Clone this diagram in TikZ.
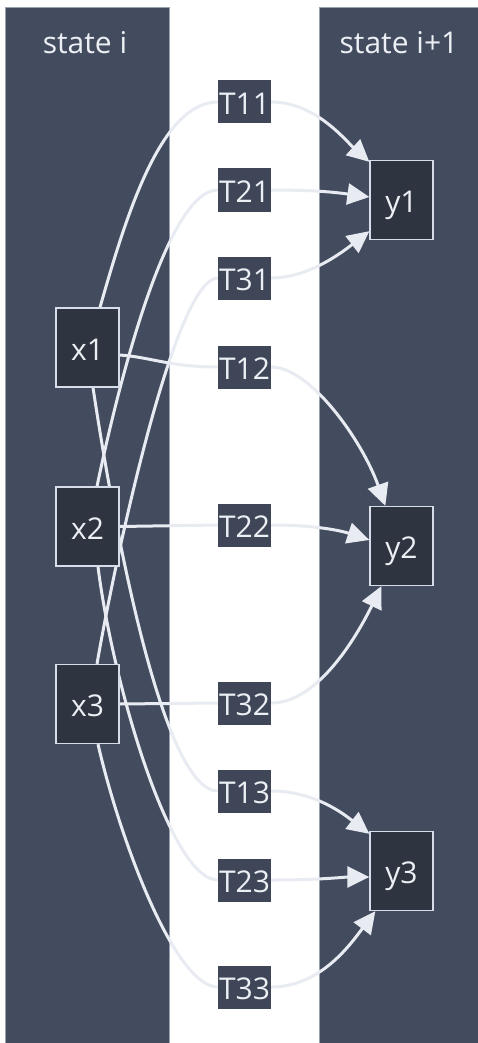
\documentclass[tikz,border=0pt]{standalone}
\usepackage{fontspec}
\setmainfont{Open Sans}
\usetikzlibrary{arrows.meta,calc}

\definecolor{clusterfill}{HTML}{434C5E}
\definecolor{clusterline}{HTML}{9AA2B1}
\definecolor{nodefill}{HTML}{2E3440}
\definecolor{nodeline}{HTML}{D8DEE9}
\definecolor{tfill}{HTML}{3E4658}
\definecolor{linkcol}{HTML}{E8EBF1}
\definecolor{labeltext}{HTML}{ECEFF4}

\pgfdeclarelayer{clusters}
\pgfdeclarelayer{links}
\pgfsetlayers{clusters,links,main}

\begin{document}
\begin{tikzpicture}[x=1pt,y=-1pt,
  cluster/.style={draw=clusterline, line width=0.8pt, fill=clusterfill, inner sep=0pt, anchor=north west},
  heading/.style={text=labeltext, font=\fontsize{30}{32}\selectfont, inner sep=0pt, anchor=base},
  statebox/.style={draw=nodeline, line width=1.3pt, fill=nodefill, minimum width=63pt, minimum height=79pt,
    inner sep=0pt, text=labeltext, font=\fontsize{30}{32}\selectfont, text height=25pt, text depth=0pt},
  tbox/.style={fill=tfill, minimum width=53pt, minimum height=43pt, inner sep=0pt, text=labeltext,
    font=\fontsize{30}{32}\selectfont, text height=25pt, text depth=0pt},
  link/.style={draw=linkcol, line width=3pt},
  arrowlink/.style={link, -{Triangle[length=22pt,width=21pt]}}]

\useasboundingbox (0,0) rectangle (478,1043);

% the two state columns
\begin{pgfonlayer}{clusters}
  \node[cluster, minimum width=164pt, minimum height=1040pt] (si) at (5,7) {};
  \node[cluster, minimum width=164pt, minimum height=1040pt] (sj) at (319,7) {};
\end{pgfonlayer}
\node[heading] (hi) at (85,54) {state i};
\node[heading] (hj) at (399,54) {state i+1};

% state nodes
\node[statebox] (x1) at (87.5,347.5) {x1};
\node[statebox] (x2) at (87.5,526.5) {x2};
\node[statebox] (x3) at (87.5,704) {x3};
\node[statebox] (y1) at (401.5,200) {y1};
\node[statebox] (y2) at (401.5,546) {y2};
\node[statebox] (y3) at (401.5,871) {y3};

% transition labels
\node[tbox] (t11) at (244.5,102) {T11};
\node[tbox] (t21) at (244.5,190) {T21};
\node[tbox] (t31) at (244.5,278) {T31};
\node[tbox] (t12) at (244.5,367) {T12};
\node[tbox] (t22) at (244.5,525) {T22};
\node[tbox] (t32) at (244.5,703) {T32};
\node[tbox] (t13) at (244.5,791) {T13};
\node[tbox] (t23) at (244.5,880) {T23};
\node[tbox] (t33) at (244.5,987) {T33};

\begin{pgfonlayer}{links}
  % x_i -> T_ij
  \draw[link] ($(x1.north)+(12.5,0)$) .. controls (125,220) and (160,102) .. (t11.west);
  \draw[link] ($(x2.north)+(9.5,0)$) .. controls (115,400) and (165,190) .. (t21.west);
  \draw[link] ($(x3.north)+(9.5,0)$) .. controls (115,560) and (175,278) .. (t31.west);
  \draw[link] ($(x1.east)+(0,7.5)$) .. controls (150,357) and (170,367) .. (t12.west);
  \draw[link] (x2.east) -- (t22.west);
  \draw[link] (x3.east) -- (t32.west);
  \draw[link] ($(x1.south)+(5.5,0)$) .. controls (110,500) and (160,791) .. (t13.west);
  \draw[link] ($(x2.south)+(10.5,0)$) .. controls (112,680) and (170,880) .. (t23.west);
  \draw[link] ($(x3.south)+(10.5,0)$) .. controls (120,840) and (175,987) .. (t33.west);
  % T_ij -> y_j
  \draw[arrowlink] (t11.east) .. controls (315,102) and (345,140) .. ($(y1.north west)+(0,2)$);
  \draw[arrowlink] (t21.east) .. controls (320,190) and (340,193) .. ($(y1.west)+(0,-3)$);
  \draw[arrowlink] (t31.east) .. controls (310,278) and (345,250) .. ($(y1.south west)+(0,-9)$);
  \draw[arrowlink] (t12.east) .. controls (310,367) and (362,440) .. ($(y2.north west)+(16,0)$);
  \draw[arrowlink] (t22.east) .. controls (320,525) and (345,532) .. ($(y2.west)+(0,-6)$);
  \draw[arrowlink] (t32.east) .. controls (320,703) and (360,630) .. ($(y2.south west)+(12,0)$);
  \draw[arrowlink] (t13.east) .. controls (315,791) and (345,815) .. ($(y3.north west)+(0,3)$);
  \draw[arrowlink] (t23.east) .. controls (320,880) and (345,877) .. ($(y3.west)+(0,6)$);
  \draw[arrowlink] (t33.east) .. controls (320,987) and (350,945) .. ($(y3.south west)+(6,0)$);
\end{pgfonlayer}
\end{tikzpicture}
\end{document}
